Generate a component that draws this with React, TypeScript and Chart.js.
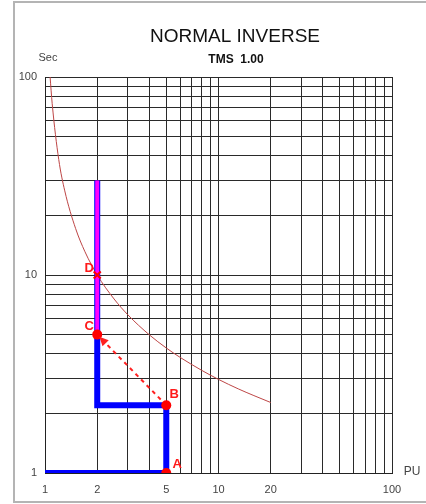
import React, { useEffect, useRef } from "react";
import { Chart, registerables } from "chart.js";
Chart.register(...registerables);

// Normal inverse curve (TMS 1.00)
const curvePU = [1.07, 1.1, 1.2, 1.3, 1.5, 1.7, 2, 2.5, 3, 4, 5, 6, 8, 10, 13, 16, 20];
const curveSec = [100, 73.4, 38.3, 26.6, 17.2, 13.1, 10.0, 7.57, 6.3, 4.98, 4.28, 3.84, 3.3, 2.97, 2.66, 2.46, 2.27];

// Blue path 1 -> A -> B -> (2, 2.2) -> C -> top
const bluePU = [1, 5, 5, 2, 2, 2];
const blueSec = [1, 1, 2.2, 2.2, 5, 30];

// Magenta segment
const magentaPU = [2, 2];
const magentaSec = [5, 30];

// Points A, B, C
const pointLabels = ["A", "B", "C"];
const pointPU = [5, 5, 2];
const pointSec = [1, 2.2, 5];

// Point D (cross)
const dPU = [2];
const dSec = [10];

// Dashed arrow B -> C
const arrowPU = [5, 2];
const arrowSec = [2.2, 5];

// Grid and tick labels
const gridValues = [1, 2, 3, 4, 5, 6, 7, 8, 9, 10, 20, 30, 40, 50, 60, 70, 80, 90, 100];
const xTickLabels = [1, 2, 5, 10, 20, 100];
const yTickLabels = [1, 10, 100];

const FONT = "'Liberation Sans', Arial, sans-serif";

const toXY = (xs: number[], ys: number[]) => xs.map((x, i) => ({ x, y: ys[i] }));

const textPlugin = {
  id: "textPlugin",
  beforeDraw(chart: any) {
    const ctx = chart.ctx;
    ctx.save();
    ctx.fillStyle = "#ffffff";
    ctx.fillRect(0, 0, chart.width, chart.height);
    ctx.strokeStyle = "#b4b4b4";
    ctx.lineWidth = 2;
    ctx.strokeRect(14, 2, 440, 500);
    ctx.restore();
  },
  afterDraw(chart: any) {
    const ctx = chart.ctx;
    const xs = chart.scales.x;
    const ys = chart.scales.y;
    ctx.save();
    // titles
    ctx.fillStyle = "#111";
    ctx.textAlign = "center";
    ctx.textBaseline = "middle";
    ctx.font = `19px ${FONT}`;
    ctx.fillText("NORMAL INVERSE", 235, 37);
    ctx.font = `bold 12px ${FONT}`;
    ctx.fillText("TMS  1.00", 236, 60);
    // axis names
    ctx.fillStyle = "#444";
    ctx.font = `11px ${FONT}`;
    ctx.fillText("Sec", 48, 58);
    ctx.font = `12px ${FONT}`;
    ctx.fillText("PU", 412, 472);
    // tick labels
    ctx.font = `11px ${FONT}`;
    ctx.fillStyle = "#444";
    xTickLabels.forEach((v) => {
      ctx.textAlign = "center";
      ctx.fillText(String(v), xs.getPixelForValue(v), 490);
    });
    yTickLabels.forEach((v) => {
      ctx.textAlign = "right";
      ctx.fillText(String(v), 37, ys.getPixelForValue(v));
    });
    // arrowhead at C
    const bx = xs.getPixelForValue(arrowPU[0]);
    const by = ys.getPixelForValue(arrowSec[0]);
    const cx = xs.getPixelForValue(arrowPU[1]);
    const cy = ys.getPixelForValue(arrowSec[1]);
    const ang = Math.atan2(cy - by, cx - bx);
    const tipX = cx - Math.cos(ang) * 3;
    const tipY = cy - Math.sin(ang) * 3;
    const len = 10;
    const spread = 0.45;
    ctx.fillStyle = "#ff2020";
    ctx.beginPath();
    ctx.moveTo(tipX, tipY);
    ctx.lineTo(tipX - len * Math.cos(ang - spread), tipY - len * Math.sin(ang - spread));
    ctx.lineTo(tipX - len * Math.cos(ang + spread), tipY - len * Math.sin(ang + spread));
    ctx.closePath();
    ctx.fill();
    // point letters
    ctx.fillStyle = "#ff1a1a";
    ctx.font = `bold 13px ${FONT}`;
    ctx.textAlign = "center";
    const offs = [
      [11, -9],
      [8, -11],
      [-8, -8],
    ];
    pointLabels.forEach((l, i) => {
      const px = xs.getPixelForValue(pointPU[i]);
      const py = ys.getPixelForValue(pointSec[i]);
      ctx.fillText(l, px + offs[i][0], py + offs[i][1]);
    });
    const dx = xs.getPixelForValue(dPU[0]);
    const dy = ys.getPixelForValue(dSec[0]);
    ctx.fillText("D", dx - 8, dy - 7);
    ctx.restore();
  },
};

export default function App() {
  const ref = useRef<HTMLCanvasElement | null>(null);
  useEffect(() => {
    if (!ref.current) return;
    const gridCfg = {
      color: "#2a2a2a",
      lineWidth: 1,
      drawTicks: false,
    };
    const chart = new Chart(ref.current, {
      type: "scatter",
      data: {
        datasets: [
          {
            label: "curve",
            data: toXY(curvePU, curveSec),
            showLine: true,
            borderColor: "rgb(190,70,70)",
            borderWidth: 1,
            pointRadius: 0,
            tension: 0.4,
            cubicInterpolationMode: "monotone",
            order: 6,
          },
          {
            label: "arrow",
            data: toXY(arrowPU, arrowSec),
            showLine: true,
            borderColor: "#ff2020",
            borderWidth: 2,
            borderDash: [4, 4],
            pointRadius: 0,
            order: 5,
          },
          {
            label: "blue",
            data: toXY(bluePU, blueSec),
            showLine: true,
            borderColor: "#0000ff",
            borderWidth: 6,
            pointRadius: 0,
            borderJoinStyle: "miter",
            borderCapStyle: "butt",
            order: 4,
          },
          {
            label: "magenta",
            data: toXY(magentaPU, magentaSec),
            showLine: true,
            borderColor: "#ff00ff",
            borderWidth: 4,
            pointRadius: 0,
            order: 3,
          },
          {
            label: "points",
            data: toXY(pointPU, pointSec),
            showLine: false,
            pointRadius: 5,
            pointBackgroundColor: "#ff0000",
            pointBorderColor: "#ff0000",
            pointBorderWidth: 0,
            order: 2,
          },
          {
            label: "D",
            data: toXY(dPU, dSec),
            showLine: false,
            pointStyle: "crossRot",
            pointRadius: 5,
            pointBorderColor: "#ff0000",
            pointBorderWidth: 2,
            order: 1,
          },
        ],
      } as any,
      options: {
        responsive: false,
        animation: false,
        layout: { padding: { left: 45, right: 34, top: 77, bottom: 31 } },
        plugins: {
          legend: { display: false },
          tooltip: { enabled: false },
          title: { display: false },
        },
        scales: {
          x: {
            type: "logarithmic",
            min: 1,
            max: 100,
            afterBuildTicks: (scale: any) => {
              scale.ticks = gridValues.map((v) => ({ value: v }));
            },
            ticks: { display: false },
            grid: gridCfg,
            border: { display: true, color: "#222", width: 1 },
          },
          y: {
            type: "logarithmic",
            min: 1,
            max: 100,
            afterBuildTicks: (scale: any) => {
              scale.ticks = gridValues.map((v) => ({ value: v }));
            },
            ticks: { display: false },
            grid: gridCfg,
            border: { display: true, color: "#222", width: 1 },
          },
        },
      } as any,
      plugins: [textPlugin],
    });
    return () => chart.destroy();
  }, []);
  return (
    <div style={{ position: "absolute", left: 0, top: 0, width: 426, height: 504 }}>
      <canvas ref={ref} width={426} height={504} style={{ display: "block", width: 426, height: 504 }} />
    </div>
  );
}
